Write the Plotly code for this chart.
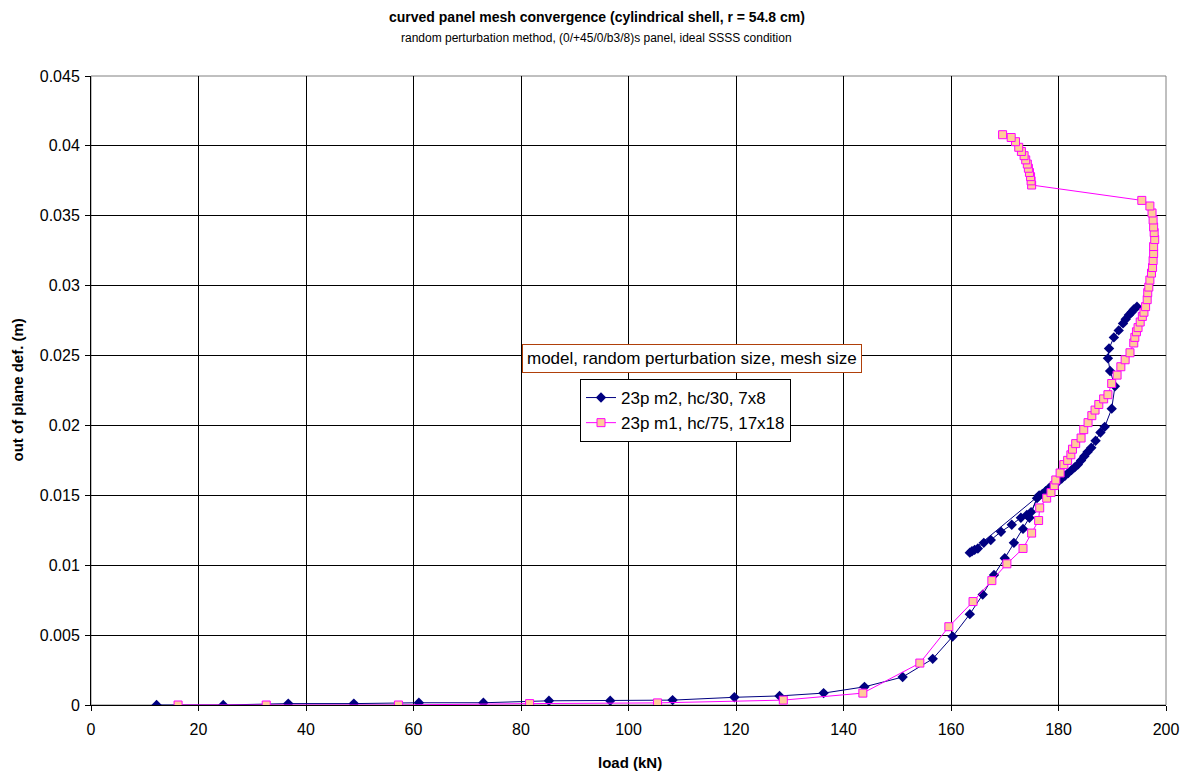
import plotly.graph_objects as go

# 23p m2, hc/30, 7x8 mesh
m2_load = [12.2, 24.6, 36.7, 48.9, 61.0, 73.0, 85.2, 96.6, 108.2, 119.7, 128.1, 136.3,
           143.9, 151.0, 156.6, 160.3, 163.5, 165.9, 168.0, 170.0, 171.7, 173.4, 174.6, 176.0,
           174.9, 174.1, 173.0, 171.3, 169.3, 167.4, 166.1, 165.0, 164.4, 163.9, 163.5,
           176.4, 177.0, 177.6, 178.2, 178.8, 179.4, 180.0, 180.6, 181.2, 181.8, 182.4, 183.0,
           183.6, 184.2, 184.8, 185.4, 186.1, 186.9, 187.8, 188.6, 189.9, 190.5, 189.6, 189.2,
           189.4, 190.3, 191.2, 192.0, 192.5, 193.1, 193.6, 194.0, 194.6]
m2_def = [0.0, 0.0, 0.0001, 0.0001, 0.00016, 0.00016, 0.0003, 0.0003, 0.00035, 0.00055, 0.00065, 0.00085,
          0.0013, 0.002, 0.0033, 0.0049, 0.0065, 0.0079, 0.0093, 0.0105, 0.0116, 0.0126, 0.0134, 0.0148,
          0.0138, 0.0136, 0.0134, 0.0129, 0.0124, 0.0118, 0.0116, 0.0112, 0.0111, 0.0110, 0.0109,
          0.0150, 0.0151, 0.0153, 0.0155, 0.0157, 0.0159, 0.0160, 0.0162, 0.0164, 0.0166, 0.0168, 0.0170,
          0.0172, 0.0175, 0.0178, 0.0181, 0.0184, 0.0189, 0.0195, 0.0199, 0.0212, 0.0228, 0.0239, 0.0248,
          0.0255, 0.0263, 0.0268, 0.0273, 0.0276, 0.0279, 0.0281, 0.0283, 0.0285]

# 23p m1, hc/75, 17x18 mesh
m1_load = [16.2, 32.6, 57.2, 81.6, 105.4, 128.8, 143.6, 154.2, 159.6, 164.1, 167.6, 170.4,
           173.4, 175.0, 176.3, 176.5, 177.8, 178.6, 179.2, 179.5, 180.3, 181.0, 181.7, 182.3,
           182.6, 183.2, 184.2, 184.7, 185.5, 186.2, 186.8, 187.5, 188.4, 189.2, 189.9, 190.9,
           191.6, 192.4, 193.3, 194.0, 194.2, 194.5, 194.8, 195.2, 195.6, 195.9, 196.2, 196.5,
           196.6, 196.8, 197.0, 197.3, 197.5, 197.6, 197.7, 197.7, 197.9, 197.8, 197.7, 197.6,
           197.4, 197.0, 195.5, 175.0, 174.9, 174.8, 174.6, 174.4, 174.2, 173.9, 173.6, 173.1,
           172.6, 172.0, 171.2, 169.6]
m1_def = [0.0, 0.0, 0.0, 0.0001, 0.00015, 0.00035, 0.00085, 0.003, 0.0056, 0.0074, 0.0089, 0.0101,
          0.0112, 0.0123, 0.0132, 0.0141, 0.0148, 0.0152, 0.0157, 0.0161, 0.0166, 0.0172, 0.0175, 0.0179,
          0.0183, 0.0187, 0.0191, 0.0197, 0.0202, 0.0207, 0.0211, 0.0215, 0.0219, 0.0222, 0.0230, 0.0236,
          0.0242, 0.0247, 0.0252, 0.0259, 0.0263, 0.0267, 0.0270, 0.0274, 0.0278, 0.0281, 0.0285, 0.0290,
          0.0295, 0.0299, 0.0304, 0.0309, 0.0313, 0.0318, 0.0323, 0.0328, 0.0333, 0.0338, 0.0342, 0.0347,
          0.0352, 0.0357, 0.0361, 0.0372, 0.0375, 0.0378, 0.0381, 0.0384, 0.0387, 0.0390, 0.0393, 0.0396,
          0.0399, 0.0403, 0.0406, 0.0408]

series_names = ["23p m2, hc/30, 7x8", "23p m1, hc/75, 17x18"]
x_ticks = [0, 20, 40, 60, 80, 100, 120, 140, 160, 180, 200]
y_ticks = [0, 0.005, 0.01, 0.015, 0.02, 0.025, 0.03, 0.035, 0.04, 0.045]

FONT = "Liberation Sans, Arial, sans-serif"

fig = go.Figure()
fig.add_trace(go.Scatter(
    x=m2_load, y=m2_def, mode="lines+markers", name=series_names[0],
    line=dict(color="#000080", width=1),
    marker=dict(symbol="diamond", size=8, color="#000080", line=dict(width=0)),
))
fig.add_trace(go.Scatter(
    x=m1_load, y=m1_def, mode="lines+markers", name=series_names[1],
    line=dict(color="#FF00FF", width=1),
    marker=dict(symbol="square", size=8, color="#FFCC99", line=dict(color="#FF00FF", width=1)),
))

L, R, T, B = 91, 27, 76, 67
W, H = 1193, 772
pw = W - L - R
ph = H - T - B

fig.update_layout(
    width=W, height=H,
    margin=dict(l=L, r=R, t=T, b=B),
    paper_bgcolor="white", plot_bgcolor="white",
    font=dict(family=FONT, size=16, color="black"),
    showlegend=True,
    legend=dict(
        x=(580 - L) / pw, y=(H - B - 379) / ph, xanchor="left", yanchor="top",
        bgcolor="white", bordercolor="black", borderwidth=1,
        font=dict(family=FONT, size=17, color="black"),
        tracegroupgap=0, itemwidth=30,
    ),
    xaxis=dict(
        range=[0, 200], tickvals=x_ticks, ticktext=[str(v) for v in x_ticks],
        showgrid=True, gridcolor="black", gridwidth=1,
        showline=True, linecolor="black", linewidth=1,
        ticks="outside", ticklen=5, tickcolor="black",
        zeroline=False, tickfont=dict(size=16), ticklabelstandoff=5,
    ),
    yaxis=dict(
        range=[0, 0.045], tickvals=y_ticks, ticktext=[f"{v:g}" for v in y_ticks],
        showgrid=True, gridcolor="black", gridwidth=1,
        showline=True, linecolor="black", linewidth=1,
        ticks="outside", ticklen=5, tickcolor="black",
        zeroline=False, tickfont=dict(size=16), ticklabelstandoff=2,
    ),
    shapes=[dict(type="rect", xref="paper", yref="paper", x0=0, x1=1, y0=0, y1=1,
                 line=dict(color="#808080", width=1), layer="below")],
    annotations=[
        dict(text="<b>curved panel mesh convergence (cylindrical shell, r = 54.8 cm)</b>",
             xref="paper", yref="paper", x=(596.5 - L) / pw, y=1 + (T - 17) / ph,
             showarrow=False, xanchor="center", yanchor="middle",
             font=dict(family=FONT, size=14)),
        dict(text="random perturbation method, (0/+45/0/b3/8)s panel, ideal SSSS condition",
             xref="paper", yref="paper", x=(596.5 - L) / pw, y=1 + (T - 38) / ph,
             showarrow=False, xanchor="center", yanchor="middle",
             font=dict(family=FONT, size=12)),
        dict(text="<b>load (kN)</b>", xref="paper", yref="paper",
             x=(630 - L) / pw, y=-(762 - (H - B)) / ph,
             showarrow=False, xanchor="center", yanchor="middle",
             font=dict(family=FONT, size=15)),
        dict(text="<b>out of plane def. (m)</b>", xref="paper", yref="paper",
             x=-(L - 17) / pw, y=0.5, textangle=-90,
             showarrow=False, xanchor="center", yanchor="middle",
             font=dict(family=FONT, size=15)),
        dict(text="model, random perturbation size, mesh size", xref="paper", yref="paper",
             x=(692 - L) / pw, y=(H - B - 359) / ph,
             showarrow=False, xanchor="center", yanchor="middle",
             bgcolor="white", bordercolor="#B0400A", borderwidth=1, borderpad=4,
             font=dict(family=FONT, size=17)),
    ],
)

fig.write_html("out.html")
